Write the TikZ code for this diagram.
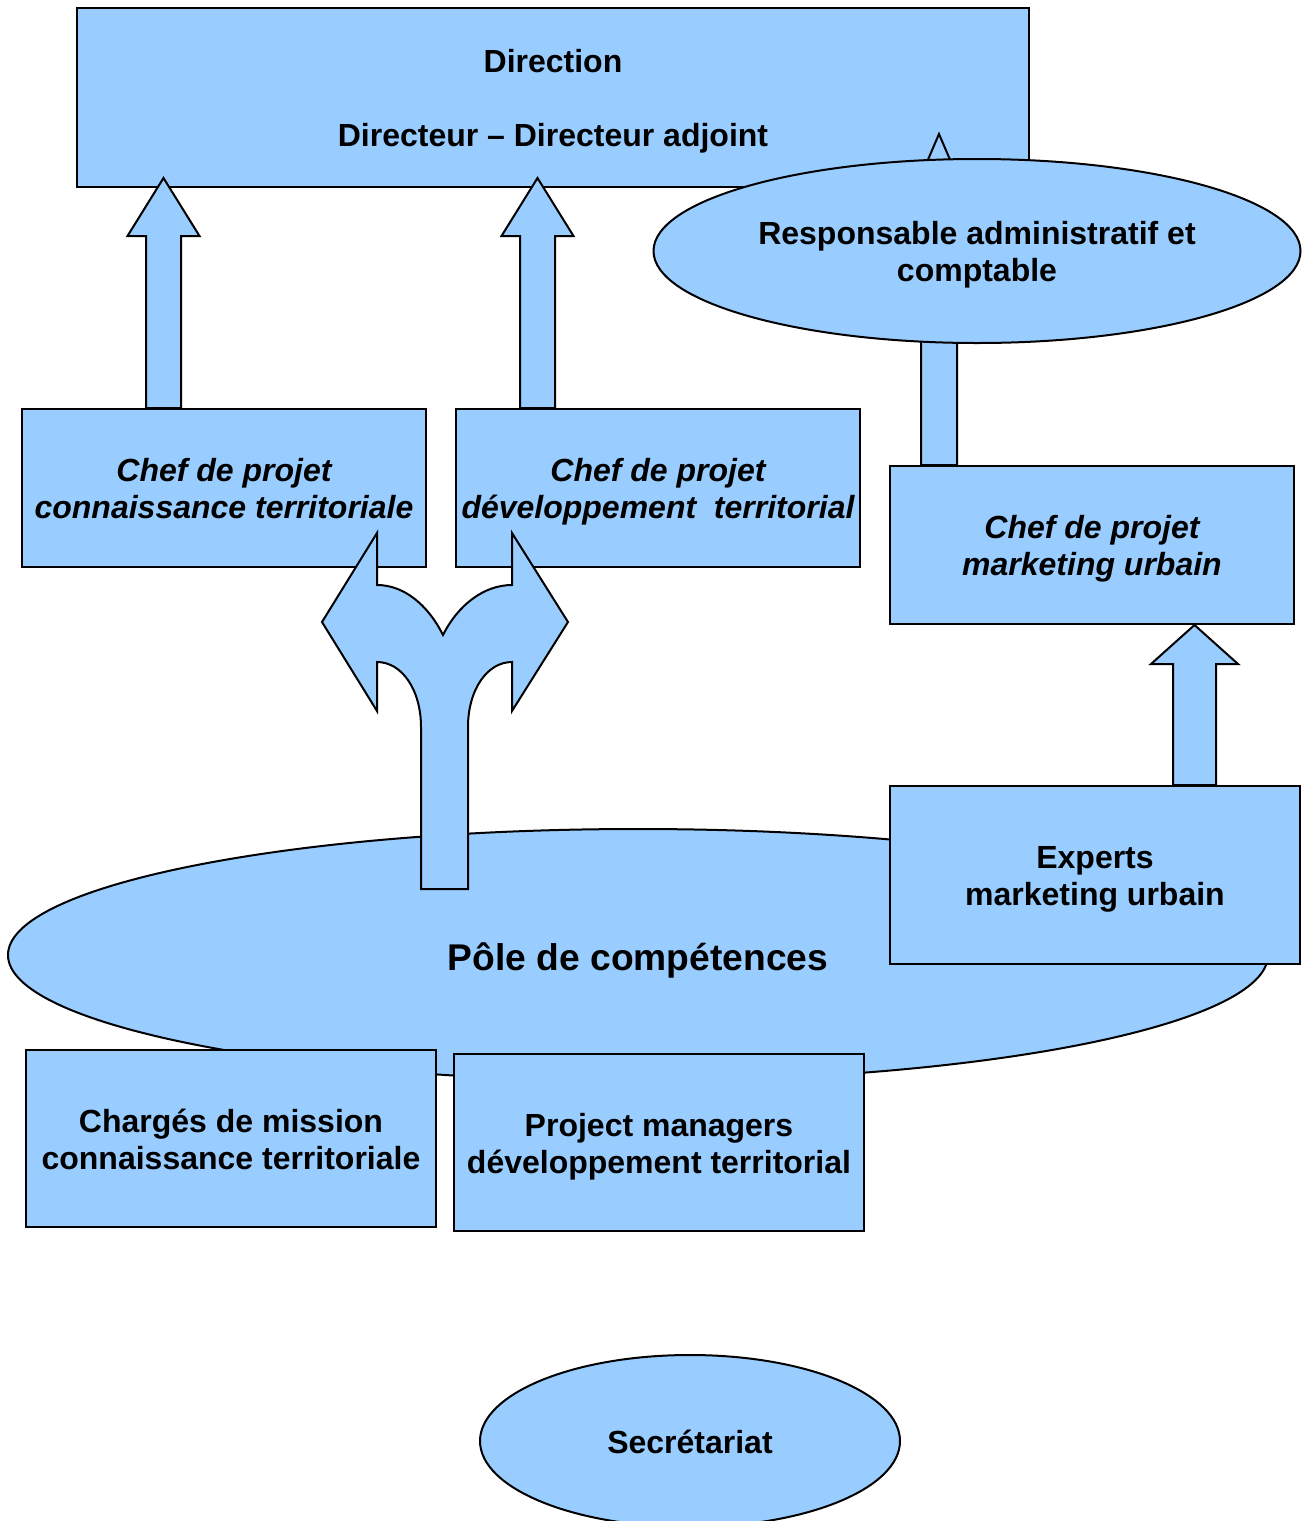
\documentclass[tikz,border=0pt]{standalone}
\usepackage{fontspec}
\setmainfont{Liberation Sans}
\usetikzlibrary{shapes.geometric,calc}
\definecolor{boxblue}{HTML}{99CCFF}

% struts for the first and the last line of a text
\newcommand{\topstrut}[1][0.97em]{\rule{0pt}{#1}}
\newcommand{\botstrut}{\rule[-0.212em]{0pt}{0pt}}
% block arrow pointing up: from, tip, shaft half width, head half width, head length
\newcommand{\blockup}[5]{%
  \path[blockarrow] let \p1=(#1), \p2=(#2) in
    (\x1-#3,\y1) -- (\x1-#3,\y2-#5) -- (\x1-#4,\y2-#5) -- (\x2,\y2)
    -- (\x1+#4,\y2-#5) -- (\x1+#3,\y2-#5) -- (\x1+#3,\y1) -- cycle;}

\begin{document}
\begin{tikzpicture}[x=0.5pt,y=-0.5pt]
        \tikzset{unit/.style={draw, fill=boxblue, line width=1pt},
                 lettering/.style={align=center, inner sep=0pt,
                   font=\bfseries\fontsize{16}{18.5}\selectfont},
                 orgbox/.style={unit, rectangle, lettering},
                 chefbox/.style={orgbox, minimum width=202pt, minimum height=79pt,
                   font=\bfseries\itshape\fontsize{16}{18.5}\selectfont},
                 orgellipse/.style={unit, ellipse, lettering},
                 blockarrow/.style={unit, line join=miter}}
        \useasboundingbox (0,0) rectangle (1307,1521);

        \node[orgbox, minimum width=476pt, minimum height=89.5pt] (direction) at (553,97.5)
          {\topstrut Direction\\[18.5pt]Directeur -- Directeur adjoint\botstrut};
        \node[chefbox] (chefmu) at (1092,545) {\topstrut Chef de projet\\marketing urbain\botstrut};
        \coordinate (a4b) at ($(chefmu.north west)+(50,0)$);
        \coordinate (a4t) at ($(a4b |- direction.south)+(0,-54)$);
        \blockup{a4b}{a4t}{9pt}{18pt}{42pt}
        \node[orgellipse, minimum width=323.5pt, minimum height=92pt] (resp) at (977,251)
          {\topstrut Responsable administratif et\\comptable\botstrut};

        \node[chefbox] (chefct) at (224,488)
          {\topstrut Chef de projet\\connaissance territoriale\botstrut};
        \node[chefbox] (chefdt) at (658,488)
          {\topstrut Chef de projet\\développement\ \ territorial\botstrut};
        \coordinate (a1b) at ($(chefct.north west)+(142.5,0)$);
        \coordinate (a1t) at ($(a1b |- direction.south)+(0,-10)$);
        \coordinate (a2b) at ($(chefdt.north west)+(82.5,0)$);
        \coordinate (a2t) at ($(a2b |- direction.south)+(0,-10)$);
        \blockup{a1b}{a1t}{8.75pt}{18pt}{29pt}
        \blockup{a2b}{a2t}{8.75pt}{18pt}{29pt}

        \node[orgellipse, minimum width=630pt, minimum height=126pt,
              font=\bfseries\fontsize{18.6}{21.5}\selectfont] (pole) at (638,955)
          {\topstrut[1.07em]Pôle de compétences\botstrut};
        \node[orgbox, minimum width=205pt, minimum height=89pt] (experts) at (1095,875)
          {\topstrut Experts\\marketing urbain\botstrut};
        \node[orgbox, minimum width=205pt, minimum height=88.5pt] (charges) at (231,1138.5)
          {\topstrut Chargés de mission\\connaissance territoriale\botstrut};
        \node[orgbox, minimum width=205pt, minimum height=88.5pt] (pm) at (659,1142.5)
          {\topstrut Project managers\\développement territorial\botstrut};

        % split arrow from the pole up to both chefs
        \draw[blockarrow] (421,889) -- (421,727)
          .. controls (421,690) and (402,662) .. (377,662) -- (377,711) -- (322,622)
          -- (377,533) -- (377,585)
          .. controls (404,585) and (428,605) .. (443,635)
          .. controls (458,605) and (484,585) .. (512,585) -- (512,533) -- (568,622)
          -- (512,711) -- (512,662)
          .. controls (487,662) and (468,690) .. (468,727) -- (468,889) -- cycle;

        \coordinate (a3b) at ($(experts.north west)+(305.5,0)$);
        \coordinate (a3t) at (a3b |- chefmu.south);
        \blockup{a3b}{a3t}{10.75pt}{21.75pt}{19.5pt}

        \node[orgellipse, minimum width=210pt, minimum height=86pt] (secr) at (690,1441)
          {\topstrut Secrétariat\botstrut};
    \end{tikzpicture}
\end{document}
